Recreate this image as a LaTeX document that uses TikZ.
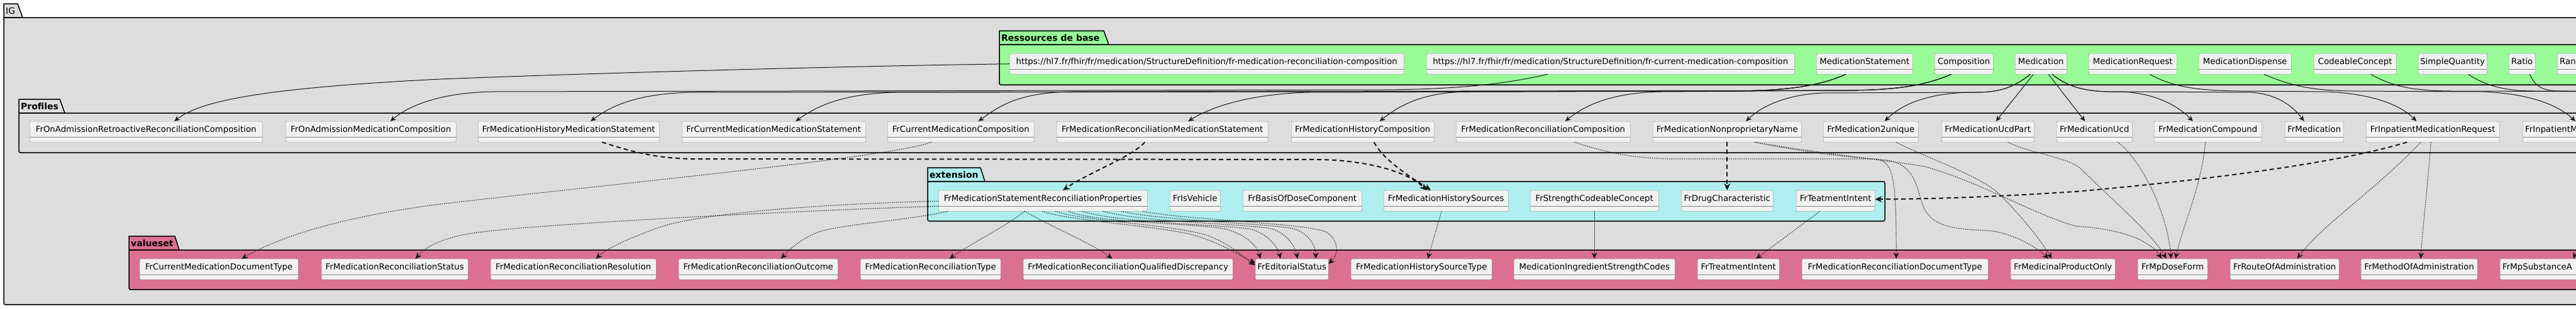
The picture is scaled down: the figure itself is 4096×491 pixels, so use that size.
\documentclass[tikz,border=0pt]{standalone}
\usepackage{fontspec}
\setmainfont{DejaVu Sans}
\usepackage{xcolor}
\usepackage{tikz}
\usetikzlibrary{arrows.meta}

\definecolor{igbg}{HTML}{DDDDDD}
\definecolor{basebg}{HTML}{98FB98}
\definecolor{extbg}{HTML}{AFEEEE}
\definecolor{vsbg}{HTML}{DB7093}
\definecolor{clsfill}{HTML}{F1F1F1}
\definecolor{clsline}{HTML}{858585}
\definecolor{edge}{HTML}{181818}

\begin{document}
\begin{tikzpicture}[x=1pt, y=-1pt,
  pkg/.style={draw=black, line width=1.5pt},
  pkgname/.style={anchor=west, inner sep=0pt, font=\fontsize{14}{16}\selectfont\bfseries},
  cls/.style={draw=clsline, fill=clsfill, rounded corners=2pt, anchor=north west,
    inner xsep=0pt, inner ysep=0pt, text height=17.4pt, text depth=15.6pt,
    font=\fontsize{13.3}{15}\selectfont,
    path picture={\draw[clsline] ([yshift=8pt]path picture bounding box.south west) -- ([yshift=8pt]path picture bounding box.south east);}},
  cutcls/.style={cls, text width=150pt, align=left, inner xsep=4pt},
  inherit/.style={draw=edge, line width=1pt, -{Stealth[length=9pt,width=8pt]}},
  usesext/.style={draw=edge, line width=2pt, dash pattern=on 7pt off 5pt, -{Stealth[length=11pt,width=10pt]}},
  binds/.style={draw=edge, line width=1.2pt, dash pattern=on 1.2pt off 1.8pt, -{Stealth[length=10pt,width=9pt]}},
]
\useasboundingbox (0,0) rectangle (4096,491);
\clip (0,0) rectangle (4096,491);

% package IG
\filldraw[pkg, fill=igbg] (6,28) -- (6,6) -- (28,6) -- (36,28) -- cycle;
\filldraw[pkg, fill=igbg, rounded corners=2.5pt] (6,28) rectangle (4300,485);
\node[pkgname, font=\fontsize{14}{16}\selectfont] (tig) at (9,17) {IG};

% package Ressources de base
\filldraw[pkg, fill=basebg] (1589,71) -- (1589,49) -- (1755,49) -- (1763,71) -- cycle;
\filldraw[pkg, fill=basebg, rounded corners=2.5pt] (1589,71) rectangle (4300,135);
\node[pkgname] (tbase) at (1592,60) {Ressources de base};

% package Profiles
\filldraw[pkg, fill=igbg] (30,180) -- (30,158) -- (95,158) -- (103,180) -- cycle;
\filldraw[pkg, fill=igbg, rounded corners=2.5pt] (30,180) rectangle (4300,243);
\node[pkgname] (tprof) at (33,169) {Profiles};

% package extension
\filldraw[pkg, fill=extbg] (1475,289) -- (1475,267) -- (1559,267) -- (1566,289) -- cycle;
\filldraw[pkg, fill=extbg, rounded corners=2.5pt] (1475,289) rectangle (2997,352);
\node[pkgname] (text) at (1478,278) {extension};

% package valueset
\filldraw[pkg, fill=vsbg] (205,398) -- (205,376) -- (278,376) -- (285,398) -- cycle;
\filldraw[pkg, fill=vsbg, rounded corners=2.5pt] (205,398) rectangle (4300,461);
\node[pkgname] (tvs) at (208,387) {valueset};

% base resources
\node[cls, minimum width=627pt] (recurl) at (1605,85) {https://hl7.fr/fhir/fr/medication/StructureDefinition/fr-medication-reconciliation-composition};
\node[cls, minimum width=585pt] (cururl) at (2268,85) {https://hl7.fr/fhir/fr/medication/StructureDefinition/fr-current-medication-composition};
\node[cls, minimum width=153pt] (medstmt) at (2888,85) {MedicationStatement};
\node[cls, minimum width=93pt] (comp) at (3076,85) {Composition};
\node[cls, minimum width=82pt] (med) at (3204,85) {Medication};
\node[cls, minimum width=140pt] (medreq) at (3321,85) {MedicationRequest};
\node[cls, minimum width=147pt] (meddisp) at (3496,85) {MedicationDispense};
\node[cls, minimum width=131pt] (cc) at (3679,85) {CodeableConcept};
\node[cls, minimum width=109pt] (sq) at (3845,85) {SimpleQuantity};
\node[cls, minimum width=42pt] (ratio) at (3989,85) {Ratio};
\node[cutcls] (range) at (4066,85) {Ran};

% profiles
\node[cls, minimum width=370pt] (retro) at (47,193) {FrOnAdmissionRetroactiveReconciliationComposition};
\node[cls, minimum width=271pt] (onadm) at (454,193) {FrOnAdmissionMedicationComposition};
\node[cls, minimum width=288pt] (histms) at (760,193) {FrMedicationHistoryMedicationStatement};
\node[cls, minimum width=292pt] (curms) at (1084,193) {FrCurrentMedicationMedicationStatement};
\node[cls, minimum width=233pt] (curcomp) at (1411,193) {FrCurrentMedicationComposition};
\node[cls, minimum width=336pt] (recms) at (1680,193) {FrMedicationReconciliationMedicationStatement};
\node[cls, minimum width=227pt] (histcomp) at (2053,193) {FrMedicationHistoryComposition};
\node[cls, minimum width=277pt] (reccomp) at (2315,193) {FrMedicationReconciliationComposition};
\node[cls, minimum width=236pt] (nonprop) at (2628,193) {FrMedicationNonproprietaryName};
\node[cls, minimum width=151pt] (twounique) at (2899,193) {FrMedication2unique};
\node[cls, minimum width=147pt] (ucdpart) at (3087,193) {FrMedicationUcdPart};
\node[cls, minimum width=120pt] (ucd) at (3270,193) {FrMedicationUcd};
\node[cls, minimum width=171pt] (compound) at (3425,193) {FrMedicationCompound};
\node[cls, minimum width=93pt] (frmed) at (3633,193) {FrMedication};
\node[cls, minimum width=212pt] (inpmr) at (3762,193) {FrInpatientMedicationRequest};
\node[cutcls] (inpm) at (4011,193) {FrInpatientM};

% extensions
\node[cls, minimum width=332pt] (recprops) at (1492,303) {FrMedicationStatementReconciliationProperties};
\node[cls, minimum width=80pt] (vehicle) at (1860,303) {FrIsVehicle};
\node[cls, minimum width=189pt] (basis) at (1976,303) {FrBasisOfDoseComponent};
\node[cls, minimum width=198pt] (histsrc) at (2200,303) {FrMedicationHistorySources};
\node[cls, minimum width=204pt] (strength) at (2433,303) {FrStrengthCodeableConcept};
\node[cls, minimum width=146pt] (drugchar) at (2673,303) {FrDrugCharacteristic};
\node[cls, minimum width=125pt] (intent) at (2856,303) {FrTeatmentIntent};

% value sets
\node[cls, minimum width=252pt] (curdoc) at (222,412) {FrCurrentMedicationDocumentType};
\node[cls, minimum width=233pt] (recstatus) at (511,412) {FrMedicationReconciliationStatus};
\node[cls, minimum width=263pt] (resolution) at (780,412) {FrMedicationReconciliationResolution};
\node[cls, minimum width=253pt] (outcome) at (1079,412) {FrMedicationReconciliationOutcome};
\node[cls, minimum width=223pt] (rectype) at (1368,412) {FrMedicationReconciliationType};
\node[cls, minimum width=333pt] (discrep) at (1627,412) {FrMedicationReconciliationQualifiedDiscrepancy};
\node[cls, minimum width=116pt] (editorial) at (1996,412) {FrEditorialStatus};
\node[cls, minimum width=224pt] (histsrctype) at (2148,412) {FrMedicationHistorySourceType};
\node[cls, minimum width=256pt] (ingrstrength) at (2407,412) {MedicationIngredientStrengthCodes};
\node[cls, minimum width=130pt] (treatintent) at (2699,412) {FrTreatmentIntent};
\node[cls, minimum width=296pt] (recdoctype) at (2865,412) {FrMedicationReconciliationDocumentType};
\node[cls, minimum width=166pt] (mpo) at (3197,412) {FrMedicinalProductOnly};
\node[cls, minimum width=111pt] (doseform) at (3399,412) {FrMpDoseForm};
\node[cls, minimum width=173pt] (route) at (3546,412) {FrRouteOfAdministration};
\node[cls, minimum width=185pt] (method) at (3754,412) {FrMethodOfAdministration};
\node[cutcls] (substance) at (3975,412) {FrMpSubstanceA};

% free ends outside the picture
\coordinate (offright) at (4250,146);
\coordinate (offvs) at (4140,340);

% base -> profiles
\draw[inherit] (recurl.west) .. controls (1300,106) and (900,118) .. (700,126) .. controls (420,140) and (320,160) .. ([xshift=45pt]retro.north);
\draw[inherit] ([xshift=-100pt]cururl.south) .. controls (2400,132) and (2330,142) .. (2200,143) -- (780,146) .. controls (700,148) and (650,168) .. ([xshift=31pt]onadm.north);
\draw[inherit] ([xshift=-30pt]medstmt.south) .. controls (2890,138) and (2840,144) .. (2760,145) -- (1100,147) .. controls (1010,149) and (970,170) .. ([xshift=35pt]histms.north);
\draw[inherit] ([xshift=-30pt]medstmt.south) .. controls (2890,138) and (2840,144) .. (2760,145) -- (1420,147) .. controls (1340,150) and (1300,168) .. ([xshift=35pt]curms.north);
\draw[inherit] ([xshift=-30pt]medstmt.south) .. controls (2890,138) and (2840,144) .. (2760,145) -- (2080,147) .. controls (1990,150) and (1930,168) .. ([xshift=41pt]recms.north);
\draw[inherit] ([xshift=-20pt]comp.south) .. controls (3060,136) and (3020,143) .. (2940,144) -- (1700,146) .. controls (1620,148) and (1590,168) .. ([xshift=28pt]curcomp.north);
\draw[inherit] ([xshift=-20pt]comp.south) .. controls (3060,136) and (3020,143) .. (2940,144) -- (2330,146) .. controls (2260,148) and (2225,168) .. ([xshift=27pt]histcomp.north);
\draw[inherit] ([xshift=-20pt]comp.south) .. controls (3060,136) and (3020,143) .. (2940,144) -- (2640,146) .. controls (2560,148) and (2520,168) .. ([xshift=35pt]reccomp.north);
\draw[inherit] ([xshift=-17pt]med.south) .. controls (3200,140) and (3180,147) .. (3140,147) -- (2900,148) .. controls (2840,150) and (2800,170) .. ([xshift=30pt]nonprop.north);
\draw[inherit] ([xshift=-17pt]med.south) .. controls (3200,140) and (3180,147) .. (3140,147) .. controls (3080,147) and (3030,160) .. ([xshift=22pt]twounique.north);
\draw[inherit] ([xshift=-12pt]med.south) -- ([xshift=13pt]ucdpart.north);
\draw[inherit] ([xshift=12pt]med.south) -- ([xshift=-15pt]ucd.north);
\draw[inherit] ([xshift=18pt]med.south) .. controls (3290,140) and (3320,147) .. (3370,146) .. controls (3420,147) and (3460,165) .. ([xshift=-24pt]compound.north);
\draw[inherit] ([xshift=18pt]med.south) .. controls (3290,140) and (3320,147) .. (3370,146) -- (3580,147) .. controls (3620,150) and (3645,168) .. ([xshift=-16pt]frmed.north);
\draw[inherit] ([xshift=27pt]medreq.south) .. controls (3450,135) and (3480,144) .. (3560,145) -- (3700,146) .. controls (3780,150) and (3820,170) .. ([xshift=-26pt]inpmr.north);
\draw[inherit] ([xshift=30pt]meddisp.south) .. controls (3640,135) and (3670,144) .. (3740,145) -- (3950,146) .. controls (4030,150) and (4070,170) .. ([xshift=84pt]inpm.north west);
\draw[inherit] ([xshift=25pt]cc.south) .. controls (3800,135) and (3830,145) .. (3900,145) -- (offright);
\draw[inherit] ([xshift=25pt]sq.south) .. controls (3950,135) and (3980,145) .. (4030,145) -- (offright);
\draw[inherit] ([xshift=12pt]ratio.south) .. controls (4030,135) and (4040,145) .. (4070,145) -- (offright);

% profiles -> extensions
\draw[usesext] ([xshift=53pt]histms.south) .. controls (1000,240) and (1040,252) .. (1100,253) -- (2100,254) .. controls (2180,256) and (2240,275) .. ([xshift=-31pt]histsrc.north);
\draw[usesext] ([xshift=-28pt]recms.south) .. controls (1800,250) and (1730,275) .. ([xshift=32pt]recprops.north);
\draw[usesext] ([xshift=18pt]histcomp.south) .. controls (2200,255) and (2240,280) .. ([xshift=-24pt]histsrc.north);
\draw[usesext] (nonprop.south) -- (drugchar.north);
\draw[usesext] ([xshift=-41pt]inpmr.south) .. controls (3700,265) and (3450,292) .. (3300,305) .. controls (3150,315) and (3050,317) .. ([yshift=2.5pt]intent.east);

% bindings to value sets
\draw[binds] ([xshift=-47pt]curcomp.south) .. controls (1420,250) and (1000,290) .. (700,325) .. controls (520,348) and (430,385) .. ([xshift=36pt]curdoc.north);
\draw[binds] ([yshift=-8.5pt]recprops.west) .. controls (1200,338) and (850,358) .. (760,370) .. controls (700,378) and (675,395) .. ([xshift=33pt]recstatus.north);
\draw[binds] ([yshift=-0.5pt]recprops.west) .. controls (1300,325) and (1100,340) .. (1040,365) .. controls (1000,380) and (965,395) .. ([xshift=36pt]resolution.north);
\draw[binds] ([xshift=-151pt]recprops.south) .. controls (1450,350) and (1330,358) .. (1300,370) .. controls (1270,382) and (1255,398) .. ([xshift=36pt]outcome.north);
\draw[binds] ([xshift=-29pt]recprops.south) .. controls (1600,360) and (1540,390) .. ([xshift=30pt]rectype.north);
\draw[binds] ([xshift=-29pt]recprops.south) .. controls (1670,360) and (1740,390) .. ([xshift=-25pt]discrep.north);
\draw[binds] ([xshift=-1pt]recprops.south) .. controls (1700,352) and (1850,360) .. (1900,375) .. controls (1950,390) and (1975,410) .. ([yshift=10.5pt]editorial.west);
\draw[binds] ([xshift=20pt]recprops.south) .. controls (1720,352) and (1870,358) .. (1920,375) .. controls (1960,390) and (1980,412) .. ([yshift=6.5pt]editorial.west);
\draw[binds] ([xshift=41pt]recprops.south) .. controls (1740,355) and (1900,355) .. (1950,365) .. controls (1985,375) and (2000,395) .. ([xshift=-50pt]editorial.north);
\draw[binds] ([xshift=62pt]recprops.south) .. controls (1780,355) and (1950,358) .. (1990,365) .. controls (2020,375) and (2032,395) .. ([xshift=-18pt]editorial.north);
\draw[binds] ([xshift=96pt]recprops.south) .. controls (1820,355) and (1990,356) .. (2025,365) .. controls (2050,375) and (2060,395) .. ([xshift=9pt]editorial.north);
\draw[binds] ([xshift=125pt]recprops.south) .. controls (1850,352) and (2030,356) .. (2060,365) .. controls (2085,375) and (2092,395) .. ([xshift=38pt]editorial.north);
\draw[binds] ([xshift=159pt]recprops.south) .. controls (1880,350) and (2080,355) .. (2110,370) .. controls (2130,385) and (2128,405) .. ([yshift=8.5pt]editorial.east);
\draw[binds] ([xshift=-7pt]histsrc.south) -- ([xshift=10pt]histsrctype.north);
\draw[binds] (strength.south) -- (ingrstrength.north);
\draw[binds] ([xshift=-25pt]intent.south) -- ([xshift=28pt]treatintent.north);
\draw[binds] ([xshift=50pt]reccomp.south) .. controls (2560,245) and (2600,252) .. (2660,253) -- (2980,253) .. controls (3010,256) and (3015,275) .. ([xshift=2pt]recdoctype.north);
\draw[binds] ([xshift=44pt]nonprop.south) .. controls (2880,245) and (2960,252) .. (3000,255) .. controls (3045,262) and (3048,300) .. (3055,320) .. controls (3065,355) and (3090,365) .. (3160,367) .. controls (3200,370) and (3240,395) .. ([xshift=-23pt]mpo.north);
\draw[binds] ([xshift=40pt]twounique.south) .. controls (3060,250) and (3150,280) .. (3180,310) .. controls (3220,350) and (3250,390) .. ([xshift=-18pt]mpo.north);
\draw[binds] ([xshift=44pt]nonprop.south) .. controls (2900,245) and (3000,255) .. (3060,265) .. controls (3150,290) and (3230,340) .. (3300,360) .. controls (3380,365) and (3420,385) .. ([xshift=-17.5pt]doseform.north);
\draw[binds] ([xshift=32pt]ucdpart.south) .. controls (3230,245) and (3290,250) .. (3310,270) .. controls (3360,320) and (3420,370) .. ([xshift=-10pt]doseform.north);
\draw[binds] ([xshift=37pt]ucd.south) .. controls (3400,250) and (3445,330) .. ([xshift=-2.5pt]doseform.north);
\draw[binds] ([xshift=-4pt]compound.south) .. controls (3500,300) and (3470,360) .. ([xshift=4.5pt]doseform.north);
\draw[binds] ([xshift=-19pt]inpmr.south) .. controls (3780,300) and (3690,360) .. ([xshift=20pt]route.north);
\draw[binds] ([xshift=-3pt]inpmr.south) .. controls (3860,300) and (3852,360) .. ([xshift=2.5pt]method.north);
\draw[binds] (offvs) .. controls (4115,370) and (4098,395) .. ([xshift=117pt]substance.north west);

\end{tikzpicture}
\end{document}
